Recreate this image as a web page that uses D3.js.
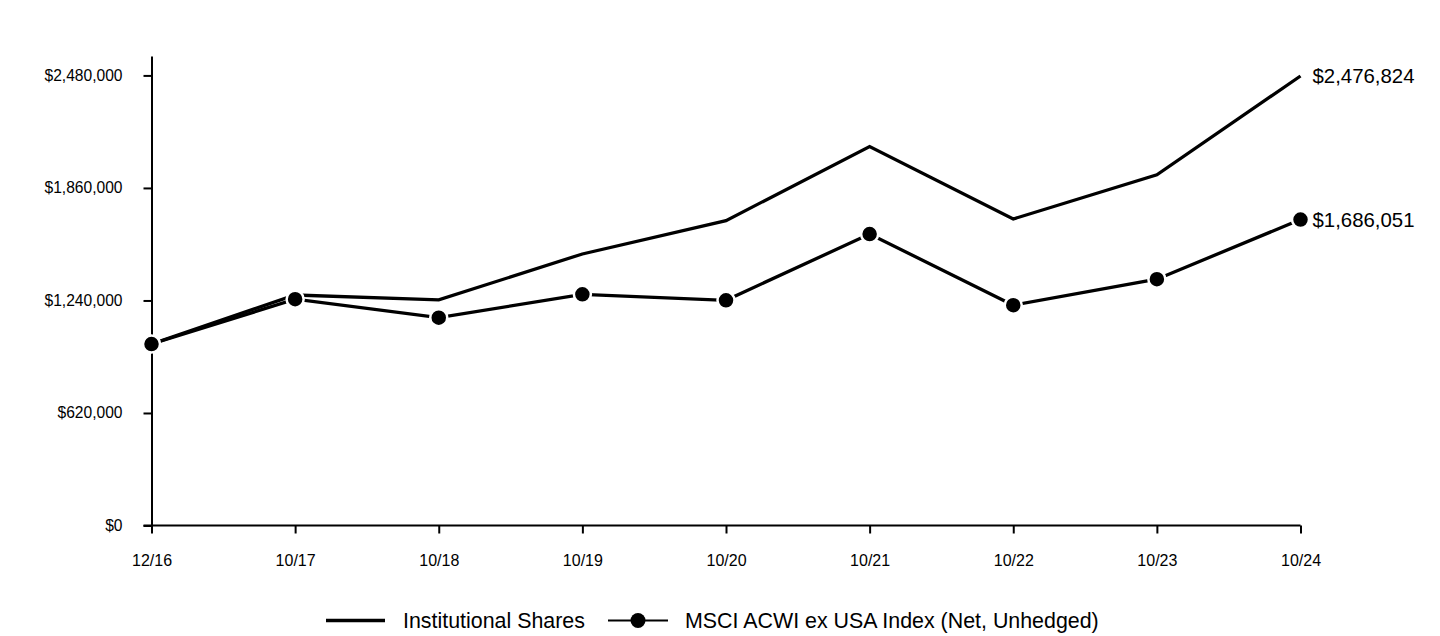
<!DOCTYPE html>
<html>
<head>
<meta charset="utf-8">
<script src="https://cdn.jsdelivr.net/npm/d3@7"></script>
<style>
  html, body { margin: 0; padding: 0; background: #fff; }
  svg { display: block; font-family: "Liberation Sans", Arial, sans-serif; }
</style>
</head>
<body>
<svg id="chart" width="1440" height="636"></svg>
<script>
const categories = ["12/16", "10/17", "10/18", "10/19", "10/20", "10/21", "10/22", "10/23", "10/24"];
const institutionalShares = [1000000, 1270000, 1243000, 1496000, 1680000, 2088000, 1689000, 1932000, 2476824];
const msciAcwiExUsa = [1000000, 1247000, 1145000, 1274000, 1241000, 1606000, 1214000, 1357000, 1686051];
const yTickValues = [0, 620000, 1240000, 1860000, 2480000];
const seriesNames = ["Institutional Shares", "MSCI ACWI ex USA Index (Net, Unhedged)"];
const endLabels = ["$2,476,824", "$1,686,051"];

const svg = d3.select("#chart");
const FF = "'Liberation Sans', Arial, sans-serif";

const x = d3.scalePoint().domain(categories).range([151.5, 1300.5]);
const y = d3.scaleLinear().domain([0, 2587000]).range([525.5, 56]);

const fmt = v => "$" + d3.format(",")(v);

// Y axis
const yAxis = svg.append("g")
  .attr("transform", "translate(151.5,0)")
  .call(d3.axisLeft(y).tickValues(yTickValues).tickFormat(fmt).tickSize(8).tickPadding(21).tickSizeOuter(0));
yAxis.select(".domain").attr("stroke", "#000").attr("stroke-width", 2);
yAxis.selectAll(".tick line").attr("stroke", "#000").attr("stroke-width", 2);
yAxis.selectAll(".tick text").attr("font-size", 15.6).attr("fill", "#000").attr("font-family", FF);

// X axis
const xAxis = svg.append("g")
  .attr("transform", "translate(0,525.5)")
  .call(d3.axisBottom(x).tickSize(8).tickPadding(21).tickSizeOuter(0));
xAxis.select(".domain").attr("stroke", "#000").attr("stroke-width", 2)
  .attr("d", `M143.5,0H${x(categories[categories.length - 1])}`);
xAxis.selectAll(".tick line").attr("stroke", "#000").attr("stroke-width", 2);
xAxis.selectAll(".tick text").attr("font-size", 16).attr("fill", "#000").attr("font-family", FF);

const line = d3.line().x((d, i) => x(categories[i])).y(d => y(d));

// Institutional line
svg.append("path")
  .datum(institutionalShares)
  .attr("d", line)
  .attr("fill", "none")
  .attr("stroke", "#000")
  .attr("stroke-width", 3.3)
  .attr("stroke-linejoin", "miter");

// MSCI line
svg.append("path")
  .datum(msciAcwiExUsa)
  .attr("d", line)
  .attr("fill", "none")
  .attr("stroke", "#000")
  .attr("stroke-width", 3.3)
  .attr("stroke-linejoin", "miter");

// MSCI markers
svg.append("g").selectAll("circle")
  .data(msciAcwiExUsa)
  .join("circle")
  .attr("cx", (d, i) => x(categories[i]))
  .attr("cy", d => y(d))
  .attr("r", 8.5)
  .attr("fill", "#000")
  .attr("stroke", "#fff")
  .attr("stroke-width", 2.5);

// End labels
const lastCat = categories[categories.length - 1];
[institutionalShares, msciAcwiExUsa].forEach((s, k) => {
  svg.append("text")
    .attr("x", x(lastCat) + 12)
    .attr("y", y(s[s.length - 1]))
    .attr("dy", "0.35em")
    .attr("font-size", 20.4)
    .attr("font-family", FF)
    .attr("fill", "#000")
    .text(endLabels[k]);
});

// Legend
const lg = svg.append("g");
const ly = 620.5;
lg.append("line").attr("x1", 326).attr("x2", 385).attr("y1", ly).attr("y2", ly)
  .attr("stroke", "#000").attr("stroke-width", 3.5);
lg.append("text").attr("x", 403).attr("y", ly).attr("dy", "0.36em")
  .attr("font-size", 21.4).attr("font-family", FF).attr("fill", "#000").text(seriesNames[0]);
lg.append("line").attr("x1", 608).attr("x2", 668).attr("y1", ly).attr("y2", ly)
  .attr("stroke", "#000").attr("stroke-width", 2);
lg.append("circle").attr("cx", 638).attr("cy", ly).attr("r", 7.5).attr("fill", "#000");
lg.append("text").attr("x", 685).attr("y", ly).attr("dy", "0.36em")
  .attr("font-size", 21.4).attr("font-family", FF).attr("fill", "#000").text(seriesNames[1]);
</script>
</body>
</html>
